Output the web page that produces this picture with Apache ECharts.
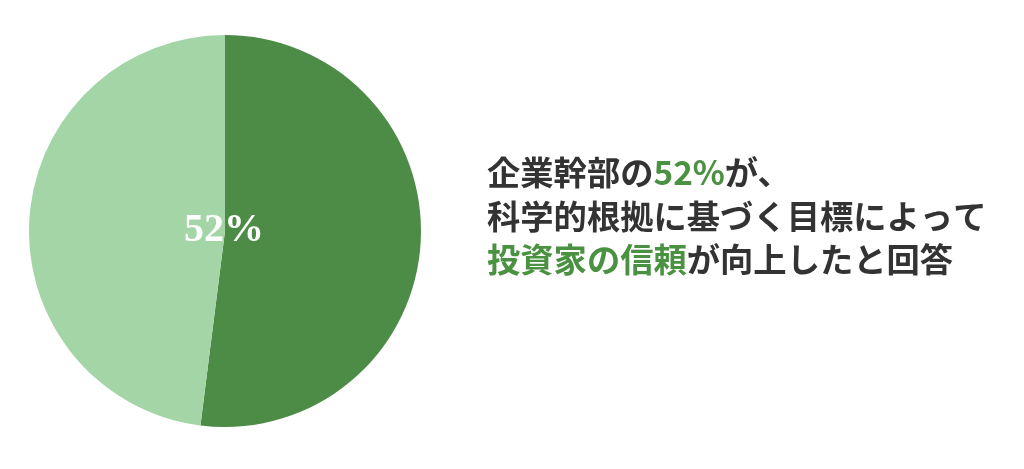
<!DOCTYPE html>
<html><head><meta charset="utf-8">
<script src="https://cdn.jsdelivr.net/npm/echarts@6/dist/echarts.min.js"></script>
<style>html,body{margin:0;padding:0;background:#fff}#c{width:1024px;height:469px}</style>
</head><body><div id="c"></div>
<script>
const categories = ['はい', 'いいえ'];
const values = [52, 48];
const labelText = '52%';
const colors = ['#4d8c46', '#a4d5a6'];

const chart = echarts.init(document.getElementById('c'));
const F = '"Noto Sans CJK JP", sans-serif';
chart.setOption({
  animation: false,
  title: {
    left: 482, top: 146,
    text: '{k|企業幹部の}{g|52%}{k|が、}\n{k|科学的根拠に基づく目標によって}\n{g|投資家の信頼}{k|が向上したと回答}',
    textStyle: {
      fontFamily: F, fontSize: 33.3, fontWeight: 'bold', lineHeight: 43.5,
      rich: {
        k: {color: '#333333', fontSize: 33.3, fontWeight: 'bold', lineHeight: 43.5, fontFamily: F},
        g: {color: '#4b9142', fontSize: 33.3, fontWeight: 'bold', lineHeight: 43.5, fontFamily: F}
      }
    }
  },
  series: [{
    type: 'pie',
    center: [225, 231],
    radius: [0, 196],
    startAngle: 90,
    clockwise: true,
    label: {show: false},
    labelLine: {show: false},
    itemStyle: {borderWidth: 0},
    emphasis: {disabled: true},
    data: categories.map((n, i) => ({
      name: n, value: values[i],
      itemStyle: {color: colors[i]},
      label: i === 0 ? {
        show: true, position: 'center', formatter: labelText,
        color: '#ffffff', fontFamily: '"Liberation Serif", serif',
        fontWeight: 'bold', fontSize: 40, offset: [-1, 0]
      } : {show: false}
    }))
  }]
});
</script></body></html>
